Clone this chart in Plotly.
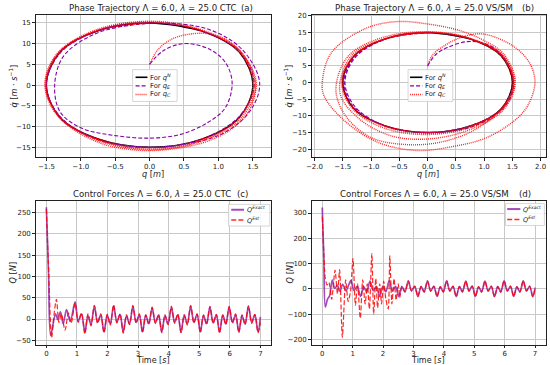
import plotly.graph_objects as go

# ---------------- data ----------------
# Phase trajectories (q [m], qdot [m/s])
qN_q = [0.00, 0.75, 1.30, 1.50, 1.30, 0.75, 0.00, -0.75, -1.30, -1.50, -1.30, -0.75, 0.00, 0.75]
qN_v = [15.0, 13.1, 8.0, 0.0, -7.9, -13.1, -15.0, -13.0, -7.9, 0.0, 8.0, 13.1, 15.0, 13.1]

qE_ctc_q = [0.00, 0.20, 0.50, 0.85, 1.10, 1.20, 1.10, 0.85, 0.45, 0.00,
            -0.50, -1.00, -1.30, -1.38, -1.25, -0.80, -0.20, 0.40, 0.90, 1.35,
            1.60, 1.45, 1.05, 0.50, 0.00, -0.75, -1.30, -1.50, -1.32, -0.75,
            0.00, 0.75, 1.32, 1.52, 1.30, 0.75, 0.00, -0.75, -1.30, -1.50,
            -1.30, -0.75, 0.00]
qE_ctc_v = [5.0, 8.3, 10.0, 8.8, 5.5, 0.5, -5.5, -9.0, -11.9, -12.8,
            -12.2, -10.3, -6.5, 0.0, 7.0, 12.3, 14.6, 14.8, 13.2, 8.5,
            0.5, -6.5, -11.8, -14.3, -15.0, -13.2, -7.8, 0.0, 7.8, 13.2,
            15.0, 13.1, 7.8, 0.0, -7.6, -13.1, -15.1, -13.1, -7.6, 0.0,
            7.7, 13.1, 15.0]

qC_ctc_q = [0.00, 0.12, 0.35, 0.75, 1.05, 1.30, 1.50, 1.55, 1.45, 1.20,
            0.80, 0.30, -0.20, -0.75, -1.30, -1.52, -1.35, -0.80, 0.00, 0.75,
            1.32, 1.54, 1.33, 0.75, 0.00, -0.75, -1.32, -1.52, -1.32, -0.75,
            0.00, 0.75, 1.32, 1.52, 1.31, 0.75, 0.00, -0.75, -1.31, -1.51,
            -1.31, -0.75, 0.00, 0.75, 1.30, 1.50, 1.30, 0.75, 0.00, -0.75,
            -1.30, -1.50, -1.30, -0.75, 0.00]
qC_ctc_v = [5.0, 8.5, 11.3, 12.5, 11.5, 8.5, 3.5, 0.0, -6.0, -10.5,
            -13.8, -15.5, -15.7, -13.8, -8.0, 0.0, 7.5, 13.2, 15.4, 13.4,
            8.2, 0.0, -8.0, -13.6, -15.6, -13.4, -7.8, 0.0, 7.9, 13.3,
            15.3, 13.2, 8.0, 0.0, -7.8, -13.4, -15.4, -13.2, -7.7, 0.0,
            7.8, 13.2, 15.2, 13.1, 8.0, 0.0, -7.9, -13.1, -15.0, -13.0,
            -7.9, 0.0, 8.0, 13.1, 15.0]

qE_vs_q = [0.00, 0.15, 0.35, 0.70, 1.05, 1.30, 1.50, 1.50, 1.32, 0.80,
           0.00, -0.75, -1.28, -1.46, -1.28, -0.75, 0.00, 0.75, 1.32, 1.52,
           1.32, 0.75, 0.00, -0.75, -1.30, -1.48, -1.30, -0.75, 0.00]
qE_vs_v = [5.0, 8.5, 10.5, 12.3, 11.5, 8.5, 2.0, -3.0, -8.0, -13.2,
           -15.0, -13.0, -7.3, 0.0, 7.5, 13.0, 15.0, 13.1, 8.0, 0.0,
           -7.8, -13.0, -15.0, -13.0, -7.5, 0.0, 7.6, 13.0, 15.0]

qC_vs_q = [0.00, 0.10, 0.35, 0.60, 0.97, 1.50, 1.80, 1.90, 1.80, 1.60,
           1.05, 0.45, -0.20, -0.90, -1.50, -1.83, -1.86, -1.70, -1.10, -0.55,
           0.00, 0.57, 1.00, 1.35, 1.55, 1.30, 0.80, 0.20, -0.40, -1.00,
           -1.45, -1.62, -1.40, -0.80, 0.00, 0.75, 1.35, 1.55, 1.35, 0.80,
           0.10, -0.60, -1.20, -1.55, -1.35, -0.75, 0.00, 0.75, 1.33, 1.53,
           1.32, 0.75, 0.00, -0.75, -1.32, -1.52, -1.32, -0.75, 0.00, 0.75,
           1.32, 1.52, 1.32, 0.75, 0.00, -0.75, -1.31, -1.50, -1.31, -0.75,
           0.00, 0.75, 1.30, 1.50, 1.30, 0.75, 0.00, -0.75, -1.30, -1.50,
           -1.30, -0.75, 0.00]
qC_vs_v = [5.0, 8.5, 11.6, 13.6, 14.6, 11.1, 6.0, 0.3, -6.0, -10.5,
           -16.5, -19.2, -20.4, -17.8, -11.0, -4.0, 0.3, 9.0, 16.2, 18.3,
           17.6, 15.6, 12.6, 8.5, 0.0, -8.0, -14.5, -18.0, -18.6, -16.5,
           -10.0, -2.0, 8.0, 13.5, 15.3, 13.3, 8.0, 0.0, -8.0, -13.8,
           -16.8, -16.2, -11.0, -3.0, 8.0, 13.2, 15.1, 13.2, 8.0, 0.0,
           -8.0, -13.5, -15.6, -13.8, -8.0, 0.0, 7.8, 13.1, 15.1, 13.1,
           7.9, 0.0, -7.8, -13.2, -15.2, -13.2, -7.6, 0.0, 7.7, 13.1,
           15.0, 13.1, 8.0, 0.0, -7.9, -13.1, -15.0, -13.0, -7.9, 0.0,
           8.0, 13.1, 15.0]

# Control forces: times [s] of turning points and values Q [N]
t_steady = [1.57, 1.675, 1.78, 1.885, 1.99, 2.09,
            2.20, 2.305, 2.41, 2.515, 2.62, 2.72,
            2.83, 2.935, 3.04, 3.145, 3.25, 3.35,
            3.46, 3.565, 3.67, 3.775, 3.88, 3.98,
            4.09, 4.195, 4.30, 4.405, 4.51, 4.61,
            4.72, 4.825, 4.93, 5.035, 5.14, 5.24,
            5.35, 5.455, 5.56, 5.665, 5.77, 5.87,
            5.98, 6.085, 6.19, 6.295, 6.40, 6.50,
            6.61, 6.715, 6.82, 6.925, 7.00]

t_ctc_exact0 = [0.00, 0.07, 0.14, 0.30, 0.37, 0.46, 0.55, 0.66, 0.78, 0.94, 1.04, 1.15, 1.26, 1.36, 1.46]
Q_ctc_exact0 = [262, 110, -38, 12, -1, 17, -11, 22, -6, 40, -5, 12, -31, 8, -13]
Q_ctc_exact_s = [30, -8, 10, -30, 9, -12, 31, -7, 11, -31, 8, -12, 30, -8, 10, -30, 9, -11,
                 26, -9, 9, -30, 8, -12, 28, -8, 10, -31, 9, -12, 30, -8, 11, -30, 8, -11,
                 28, -9, 10, -31, 9, -12, 28, -8, 10, -30, 8, -12, 30, -8, 10, -31, 5]

t_ctc_est0 = [0.00, 0.08, 0.17, 0.25, 0.33, 0.41, 0.49, 0.61, 0.72, 0.81, 0.94, 1.04, 1.15, 1.26, 1.36, 1.46]
Q_ctc_est0 = [258, 100, -44, 10, 46, -8, 12, -26, 14, -9, 37, -8, 14, -35, 12, -16]
Q_ctc_est_s = [32, -10, 12, -33, 11, -14, 33, -9, 12, -33, 10, -13, 32, -10, 12, -32, 10, -13,
               28, -10, 11, -32, 10, -13, 30, -10, 12, -32, 10, -14, 32, -9, 12, -32, 10, -13,
               30, -10, 11, -33, 10, -13, 30, -10, 12, -32, 10, -13, 31, -10, 11, -32, -8]

t_vs_exact0 = [0.00, 0.05, 0.10, 0.17, 0.24, 0.33, 0.41, 0.50, 0.58, 0.67, 0.78, 0.94, 1.04, 1.15, 1.26, 1.36, 1.46]
Q_vs_exact0 = [322, 130, -72, -42, -28, 34, 2, 14, -10, 18, -8, 32, -6, 10, -30, 9, -12]
Q_vs_exact_s = [30, -8, 10, -30, 9, -12, 31, -8, 10, -31, 9, -12, 30, -8, 10, -30, 9, -12,
                30, -9, 10, -30, 8, -12, 31, -8, 10, -31, 9, -12, 30, -8, 11, -30, 8, -12,
                30, -9, 10, -31, 9, -12, 31, -8, 10, -30, 8, -12, 31, -8, 10, -31, 5]

t_vs_est0 = [0.00, 0.05, 0.10, 0.16, 0.22, 0.31, 0.42, 0.50, 0.57, 0.66, 0.77, 0.85, 0.93,
             1.01, 1.09, 1.16, 1.25, 1.33, 1.41, 1.48, 1.55, 1.63, 1.69, 1.76, 1.82, 1.89,
             1.95, 2.02, 2.09, 2.17, 2.22, 2.29, 2.36, 2.43, 2.50, 2.55, 2.62, 2.72]
Q_vs_est0 = [285, 140, 40, 15, 25, -42, 74, -20, 76, -192, 35, -50, -10,
             120, -65, 20, -117, 35, -60, 20, -80, 139, -100, 40, -75, 20,
             -60, 30, -40, -80, 130, -60, 40, -45, 20, -35, 10, -12]
Q_vs_est_s = [31, -9, 11, -31, 10, -13, 31, -9, 11, -31, 9, -13, 32, -9, 11, -32, 10, -12,
              31, -10, 11, -31, 9, -13, 31, -9, 11, -32, 10, -13, 32, -9, 11, -31, 9, -13,
              32, -9, 11, -32, 3]

x_ticks_a = [-1.5, -1.0, -0.5, 0.0, 0.5, 1.0, 1.5]
x_ticks_b = [-2.0, -1.5, -1.0, -0.5, 0.0, 0.5, 1.0, 1.5, 2.0]
y_ticks_a = [-15, -10, -5, 0, 5, 10, 15]
y_ticks_b = [-20, -15, -10, -5, 0, 5, 10, 15, 20]
x_ticks_t = [0, 1, 2, 3, 4, 5, 6, 7]
y_ticks_c = [-50, 0, 50, 100, 150, 200, 250]
y_ticks_d = [-200, -100, 0, 100, 200, 300]

phase_names = ["For <i>q</i><sup><i>N</i></sup>", "For <i>q<sub>E</sub></i>", "For <i>q<sub>C</sub></i>"]
force_names = ["<i>Q</i><sup><i>Exact</i></sup>", "<i>Q</i><sup><i>Est</i></sup>"]

# ---------------- figure ----------------
W, H = 550, 365
FONT = "DejaVu Sans"
BLACK = "#000000"
PURPLE = "#8800aa"
RED = "rgba(255,0,0,0.85)"
PURPLE_F = "rgba(140,30,170,0.8)"
DOT = "1px,1px"
DASH_P = "4px,2px"
DASH_R = "5px,2.2px"

st_N = dict(color=BLACK, width=1.3)
st_E = dict(color=PURPLE, width=1.1, dash=DASH_P)
st_C = dict(color=RED, width=1.4, dash=DOT)
st_X = dict(color=PURPLE_F, width=1.7)
st_S = dict(color=RED, width=1.2, dash=DASH_R)

def px(x):
    return x / W

def py(y):
    return 1 - y / H

fig = go.Figure()

def add(x, y, style, xa, ya, smoothing=1.0):
    fig.add_trace(go.Scatter(x=x, y=y, mode="lines", showlegend=False, hoverinfo="skip",
                             line=dict(shape="spline", smoothing=smoothing, **style),
                             xaxis=xa, yaxis=ya))

add(qN_q, qN_v, st_N, "x", "y")
add(qE_ctc_q, qE_ctc_v, st_E, "x", "y")
add(qC_ctc_q, qC_ctc_v, st_C, "x", "y")
add(qN_q, qN_v, st_N, "x2", "y2")
add(qE_vs_q, qE_vs_v, st_E, "x2", "y2")
add(qC_vs_q, qC_vs_v, st_C, "x2", "y2")
add(t_ctc_exact0 + t_steady, Q_ctc_exact0 + Q_ctc_exact_s, st_X, "x3", "y3", 0.9)
add(t_ctc_est0 + t_steady, Q_ctc_est0 + Q_ctc_est_s, st_S, "x3", "y3", 0.9)
add(t_vs_exact0 + t_steady, Q_vs_exact0 + Q_vs_exact_s, st_X, "x4", "y4", 0.9)
add(t_vs_est0 + t_steady[12:], Q_vs_est0 + Q_vs_est_s, st_S, "x4", "y4", 0.7)

col1 = [px(30), px(268)]
col2 = [px(309), px(545.7)]
row1 = [py(156), py(12.7)]
row2 = [py(344.5), py(200)]

def ax(domain, rng, ticks, fmt, anchor):
    return dict(domain=domain, range=rng, tickvals=ticks, tickformat=fmt, anchor=anchor,
                showgrid=True, gridcolor="#c8c8c8", gridwidth=0.8, zeroline=False,
                showline=True, linecolor="#222222", linewidth=0.9, mirror=True,
                ticks="outside", ticklen=2.5, tickwidth=0.8, tickcolor="#222222",
                tickfont=dict(size=7, color="#222222", family=FONT))

fig.update_layout(
    width=W, height=H, margin=dict(l=0, r=0, t=0, b=0),
    paper_bgcolor="white", plot_bgcolor="white", showlegend=False,
    font=dict(family=FONT, color="#222222"),
    xaxis=ax(col1, [-1.656, 1.766], x_ticks_a, ".1f", "y"),
    yaxis=ax(row1, [-17.4, 17.0], y_ticks_a, "d", "x"),
    xaxis2=ax(col2, [-2.05, 2.09], x_ticks_b, ".1f", "y2"),
    yaxis2=ax(row1, [-22.4, 20.4], y_ticks_b, "d", "x2"),
    xaxis3=ax(col1, [-0.35, 7.35], x_ticks_t, "d", "y3"),
    yaxis3=ax(row2, [-60, 277], y_ticks_c, "d", "x3"),
    xaxis4=ax(col2, [-0.35, 7.35], x_ticks_t, "d", "y4"),
    yaxis4=ax(row2, [-221, 348], y_ticks_d, "d", "x4"),
)

ann = []
shapes = []

def text(x, y, s, size, angle=0, anchor="center"):
    ann.append(dict(x=px(x), y=py(y), xref="paper", yref="paper", text=s, showarrow=False,
                    xanchor=anchor, yanchor="middle", textangle=angle, borderpad=0,
                    font=dict(size=size, family=FONT, color="#222222")))

# legends drawn as boxes with key lines and labels
def legend(x0, y0, x1, y1, line_x0, line_x1, text_x, ys, styles, names, fsize):
    shapes.append(dict(type="rect", xref="paper", yref="paper", x0=px(x0), x1=px(x1), y0=py(y1), y1=py(y0),
                       fillcolor="rgba(255,255,255,0.85)", line=dict(color="#cccccc", width=0.8), layer="above"))
    for y, st, nm in zip(ys, styles, names):
        shapes.append(dict(type="line", xref="paper", yref="paper", x0=px(line_x0), x1=px(line_x1),
                           y0=py(y), y1=py(y), line=dict(color=st["color"], width=st["width"] + 0.3,
                                                         dash=st.get("dash", "solid")), layer="above"))
        text(text_x, y, nm, fsize, anchor="left")

legend(128, 68, 173, 100, 131, 143, 145, [75.7, 84.3, 93.0], [st_N, st_E, st_C], phase_names, 6.8)
legend(406.5, 68, 451.7, 100, 408.5, 421, 423, [75.7, 84.3, 93.0], [st_N, st_E, st_C], phase_names, 6.8)
legend(225, 203.5, 266.7, 225.3, 227.7, 240.7, 243, [208.9, 219.3], [st_X, st_S], force_names, 6.5)
legend(505, 202.7, 544.3, 224.7, 506.7, 520, 522, [208.2, 218.7], [st_X, st_S], force_names, 6.5)

TS = 8.6
text(149, 6, "Phase Trajectory Λ = 6.0, <i>λ</i> = 25.0 CTC", TS)
text(244, 6, "(a)", TS)
text(423, 6, "Phase Trajectory Λ = 6.0, <i>λ</i> = 25.0 VS/SM", TS)
text(528, 6, "(b)", TS)
text(148, 193, "Control Forces Λ = 6.0, <i>λ</i> = 25.0 CTC", TS)
text(239, 193, "(c)", TS)
text(423, 193, "Control Forces Λ = 6.0, <i>λ</i> = 25.0 VS/SM", TS)
text(525, 193, "(d)", TS)

LS = 8.2
text(149, 173, "<i>q</i> [<i>m</i>]", LS)
text(427, 173, "<i>q</i> [<i>m</i>]", LS)
text(149, 360.8, "Time [<i>s</i>]", 8.0)
text(427, 360.8, "Time [<i>s</i>]", 8.0)
text(7, 84, "<i>q̇</i> [<i>m</i> · <i>s</i><sup>−1</sup>]", LS, -90)
text(285, 84, "<i>q̇</i> [<i>m</i> · <i>s</i><sup>−1</sup>]", LS, -90)
text(7, 272, "<i>Q</i> [<i>N</i>]", LS, -90)
text(287, 272, "<i>Q</i> [<i>N</i>]", LS, -90)

fig.update_layout(annotations=ann, shapes=shapes)
fig.write_html("out.html", config={"displayModeBar": False},
               post_script="document.body.style.margin='0px';document.body.style.overflow='hidden';")
